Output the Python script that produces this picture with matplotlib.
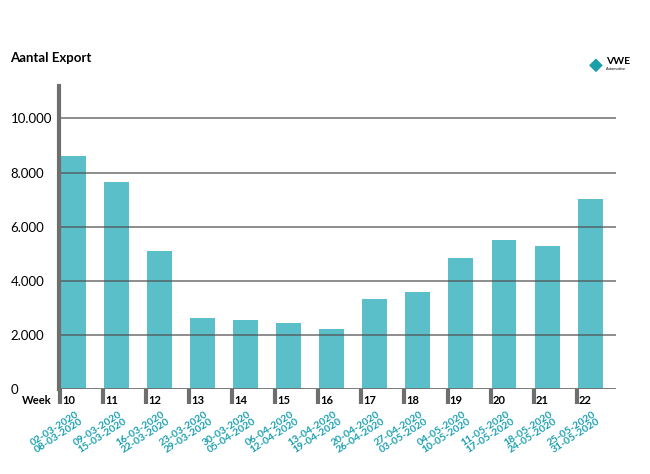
import matplotlib.pyplot as plt
import matplotlib.transforms as mtransforms
import numpy as np

plt.rcParams['font.family'] = ['Lato', 'DejaVu Sans']

weeks = ['10', '11', '12', '13', '14', '15', '16', '17', '18', '19', '20', '21', '22']
date_ranges = ['02-03-2020\n08-03-2020', '09-03-2020\n15-03-2020', '16-03-2020\n22-03-2020',
               '23-03-2020\n29-03-2020', '30-03-2020\n05-04-2020', '06-04-2020\n12-04-2020',
               '13-04-2020\n19-04-2020', '20-04-2020\n26-04-2020', '27-04-2020\n03-05-2020',
               '04-05-2020\n10-05-2020', '11-05-2020\n17-05-2020', '18-05-2020\n24-05-2020',
               '25-05-2020\n31-05-2020']
export = [8610, 7650, 5090, 2640, 2540, 2430, 2200, 3320, 3580, 4830, 5510, 5280, 7030]
yticks = [0, 2000, 4000, 6000, 8000, 10000]
ytick_labels = ['0', '2.000', '4.000', '6.000', '8.000', '10.000']

bar_color = '#5bbfc9'
teal_text = '#1a9fb0'
axis_gray = '#6e6e6e'

fig = plt.figure(figsize=(6.5, 4.74), dpi=100)
ax = fig.add_axes([59 / 650, 1 - 389 / 474, (616 - 59) / 650, (389 - 86) / 474])

x = np.arange(len(weeks))
ax.bar(x, export, width=0.58, color=bar_color, zorder=1)

# gridlines over the bars, like the original
for v in yticks[1:]:
    ax.axhline(v, color='#505050', alpha=0.7, linewidth=1.3, zorder=2)
ax.axhline(0, color=axis_gray, linewidth=2, zorder=3)

ax.set_xlim(-0.33, 12.6)
ax.set_ylim(0, 11200)

for s in ['top', 'right', 'bottom']:
    ax.spines[s].set_visible(False)
ax.spines['left'].set_color(axis_gray)
ax.spines['left'].set_linewidth(3)

ax.set_yticks(yticks)
ax.set_yticklabels(ytick_labels, fontsize=9.5)
ax.tick_params(axis='y', length=0, pad=35)
for lbl in ax.get_yticklabels():
    lbl.set_horizontalalignment('left')

# separators below the axis, with week numbers
ax.set_xticks(x - 0.31)
ax.set_xticklabels([])
ax.tick_params(axis='x', length=11, width=3, color=axis_gray, direction='out')

trans = mtransforms.blended_transform_factory(ax.transData, ax.transAxes)
off = mtransforms.ScaledTranslation(0, -8 / 72, fig.dpi_scale_trans)
for i, w in enumerate(weeks):
    ax.text(i - 0.26, 0, w, transform=trans + off, fontsize=8, fontweight='bold',
            ha='left', va='center')
ax.text(-0.5, 0, 'Week', transform=trans + off, fontsize=8, fontweight='bold',
        ha='right', va='center')

off2 = mtransforms.ScaledTranslation(0, -15 / 72, fig.dpi_scale_trans)
for i, d in enumerate(date_ranges):
    ax.text(i + 0.05, 0, d, transform=trans + off2, fontsize=7.5, fontweight='bold',
            color=teal_text, rotation=33, rotation_mode='anchor',
            ha='right', va='top', linespacing=0.95)

fig.text(10 / 650, 1 - 58 / 474, 'Aantal Export', fontsize=9.5, fontweight='bold',
         ha='left', va='center')

# small logo in the corner
fig.text(596 / 650, 1 - 65 / 474, '\u25C6', fontsize=13, color='#1aa0a8',
         ha='center', va='center')
fig.text(606 / 650, 1 - 61 / 474, 'VWE', fontsize=7.5, fontweight='bold',
         ha='left', va='center')
fig.text(606 / 650, 1 - 69 / 474, 'Automotive', fontsize=2.8,
         ha='left', va='center')

plt.savefig('out.png', dpi=100)
